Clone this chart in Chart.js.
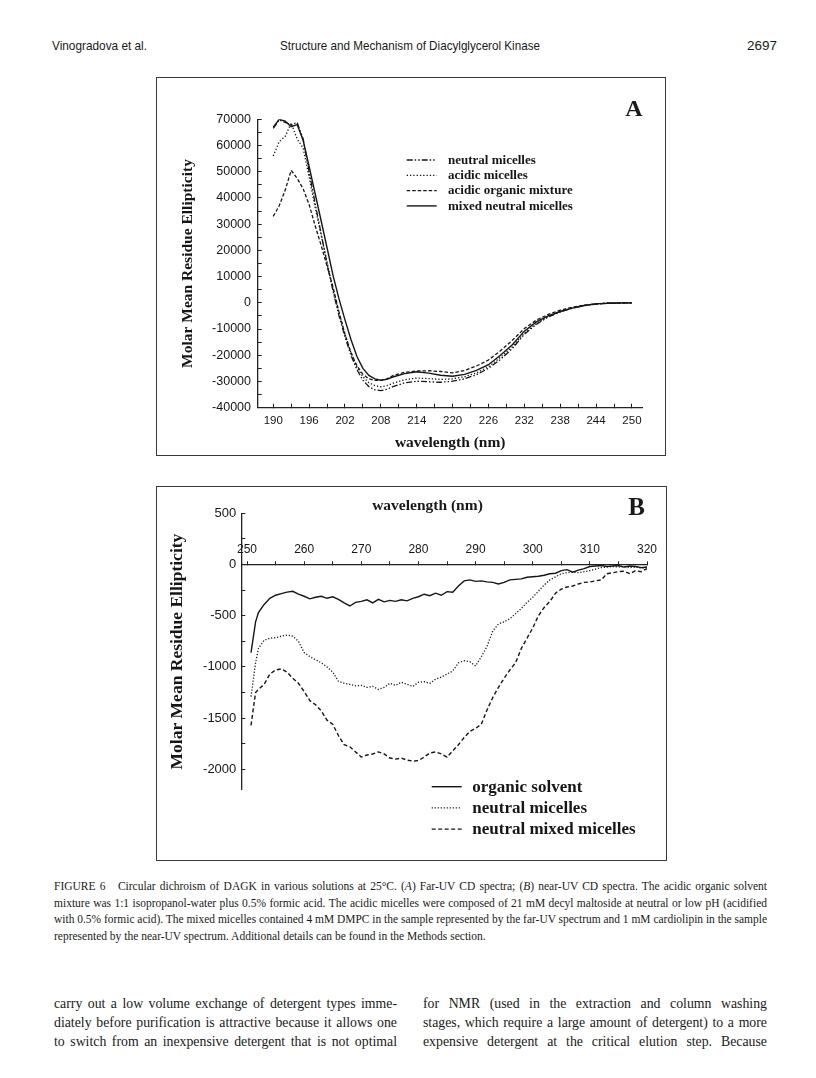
<!DOCTYPE html>
<html>
<head>
<meta charset="utf-8">
<title>Figure 6 – Circular dichroism of DAGK</title>
<script src="https://cdn.jsdelivr.net/npm/chart.js@4/dist/chart.umd.min.js"></script>
<style>
html,body{margin:0;padding:0;background:#fff;}
#page{position:relative;width:816px;height:1078px;overflow:hidden;background:#fff;color:#1a1a1a;}
.hdr{position:absolute;top:38px;font-family:"Liberation Sans",Arial,sans-serif;font-size:13px;line-height:16px;white-space:nowrap;transform-origin:left center;}
.box{position:absolute;border:1.5px solid #3a3a3a;box-sizing:border-box;}
.cv{position:absolute;}
.lbl{position:absolute;font-family:"Liberation Serif","Times New Roman",serif;font-weight:bold;white-space:nowrap;transform:translate(-50%,-50%);line-height:1;}
.cap{position:absolute;left:54px;font-family:"Liberation Serif","Times New Roman",serif;font-size:11.5px;line-height:14px;white-space:nowrap;transform-origin:left center;}
.txt{position:absolute;font-family:"Liberation Serif","Times New Roman",serif;font-size:13.8px;line-height:16px;white-space:nowrap;transform-origin:left center;}
</style>
</head>
<body>
<div id="page">
  <div class="hdr fs" data-w="95" style="left:52px;">Vinogradova et al.</div>
  <div class="hdr fs" data-w="260" style="left:280px;">Structure and Mechanism of Diacylglycerol Kinase</div>
  <div class="hdr fs" data-w="30" style="left:747px;">2697</div>

  <div class="box" style="left:156px;top:77px;width:510px;height:379px;"></div>
  <canvas id="chartA" class="cv" width="508" height="377" style="left:157px;top:78px;"></canvas>
  <div class="lbl" style="left:634px;top:108px;font-size:24px;">A</div>

  <div class="box" style="left:156px;top:486px;width:511px;height:375px;"></div>
  <canvas id="chartB" class="cv" width="509" height="372" style="left:157px;top:487px;"></canvas>
  <div class="lbl" style="left:427.5px;top:505px;font-size:15.5px;">wavelength (nm)</div>
  <div class="lbl" style="left:636.5px;top:506px;font-size:25px;">B</div>

  <div class="cap fit" data-w="713" style="top:879px;">FIGURE 6&nbsp;&nbsp; Circular dichroism of DAGK in various solutions at 25°C. (<i>A</i>) Far-UV CD spectra; (<i>B</i>) near-UV CD spectra. The acidic organic solvent</div>
  <div class="cap fit" data-w="713" style="top:896px;">mixture was 1:1 isopropanol-water plus 0.5% formic acid. The acidic micelles were composed of 21 mM decyl maltoside at neutral or low pH (acidified</div>
  <div class="cap fit" data-w="713" style="top:912px;">with 0.5% formic acid). The mixed micelles contained 4 mM DMPC in the sample represented by the far-UV spectrum and 1 mM cardiolipin in the sample</div>
  <div class="cap" style="top:929px;">represented by the near-UV spectrum. Additional details can be found in the Methods section.</div>

  <div class="txt fit" data-w="343" style="left:54px;top:996px;">carry out a low volume exchange of detergent types imme-</div>
  <div class="txt fit" data-w="343" style="left:54px;top:1015px;">diately before purification is attractive because it allows one</div>
  <div class="txt fit" data-w="343" style="left:54px;top:1034px;">to switch from an inexpensive detergent that is not optimal</div>
  <div class="txt fit" data-w="344" style="left:423px;top:996px;">for NMR (used in the extraction and column washing</div>
  <div class="txt fit" data-w="344" style="left:423px;top:1015px;">stages, which require a large amount of detergent) to a more</div>
  <div class="txt fit" data-w="344" style="left:423px;top:1034px;">expensive detergent at the critical elution step. Because</div>
</div>

<script>
// ---------------- Panel A data (far-UV) ----------------
const wavelengthsA = [190,191,192,193,194,195,196,197,198,199,200,201,202,203,204,205,206,207,208,209,210,
  212,214,216,218,220,222,224,226,228,230,232,234,236,238,240,242,244,246,248,250];
const neutralMicellesA = [66500,69800,68800,68000,68800,62500,50000,38000,26500,15000,4500,-5000,-13000,-20000,-25500,-29500,-32000,-33200,-33500,-33000,-32000,
  -30500,-29900,-30100,-30300,-29900,-29000,-27400,-25000,-21600,-17400,-12000,-8200,-5400,-3500,-2100,-1100,-450,-150,-50,0];
const acidicMicellesA = [56000,61500,63500,68500,62500,59000,48000,36500,26000,15500,5000,-4000,-12000,-19000,-24500,-28200,-30500,-31600,-32000,-31600,-30700,
  -29300,-28700,-28900,-29200,-29000,-28200,-26700,-24400,-20800,-16800,-11500,-7900,-5200,-3400,-2000,-1000,-400,-150,-50,0];
const acidicOrganicA = [33000,37000,43000,50500,47500,43500,37500,29500,22000,14000,6000,-3500,-12000,-19000,-24000,-27300,-29000,-29600,-29600,-29000,-27800,
  -26500,-26000,-25900,-26200,-26700,-25800,-24100,-21800,-18300,-14300,-9800,-6600,-4400,-2800,-1700,-900,-400,-150,-50,0];
const mixedNeutralA = [67000,70000,69300,67200,68000,62000,52000,41700,31400,21000,10500,1500,-6500,-14000,-20500,-25000,-27700,-29000,-29500,-29200,-28300,
  -27000,-26300,-26800,-27600,-28000,-27300,-25800,-23600,-20000,-16000,-10800,-7300,-5000,-3300,-2000,-1000,-400,-150,-50,0];
const xTicksA = [190,193,196,199,202,205,208,211,214,217,220,223,226,229,232,235,238,241,244,247,250];
const xTickLabelsA = [190,196,202,208,214,220,226,232,238,244,250];
const yTicksA = [-40000,-35000,-30000,-25000,-20000,-15000,-10000,-5000,0,5000,10000,15000,20000,25000,30000,35000,40000,45000,50000,55000,60000,65000,70000];
const yTickLabelsA = [-40000,-30000,-20000,-10000,0,10000,20000,30000,40000,50000,60000,70000];
const labelsA = ['neutral micelles','acidic micelles','acidic organic mixture','mixed neutral micelles'];

// ---------------- Panel B data (near-UV) ----------------
const wavelengthsB = [250.7,251.5,252,253,254,255,256,257,258,259,260,261,262,263,264,265,266,267,268,269,270,271,
  272,273,274,275,276,277,278,279,280,281,282,283,284,285,286,287,288,289,290,291,
  292,293,294,295,296,297,298,299,300,301,302,303,304,305,306,307,308,309,310,311,
  312,313,314,315,316,317,318,319,320];
const organicSolventB = [-860,-560,
  -470,-390,-330,-300,-285,-270,-262,-290,-310,-335,
  -320,-310,-330,-315,-340,-375,-405,-370,-360,-345,
  -375,-340,-365,-350,-360,-345,-355,-330,-315,-290,
  -305,-280,-300,-265,-270,-210,-160,-150,-165,-160,
  -170,-175,-190,-175,-150,-145,-140,-125,-120,-115,
  -105,-90,-85,-60,-50,-75,-55,-40,-20,-15,
  -10,-20,-15,-10,-25,-15,-20,-30,-25];
const neutralMicellesB = [-1290,-960,
  -820,-740,-720,-715,-700,-690,-700,-750,-860,-900,
  -930,-960,-1000,-1050,-1140,-1160,-1170,-1185,-1180,-1200,
  -1190,-1220,-1200,-1160,-1180,-1150,-1170,-1190,-1150,-1145,
  -1160,-1120,-1100,-1070,-1040,-960,-940,-950,-990,-900,
  -800,-650,-580,-560,-530,-480,-430,-370,-320,-260,
  -200,-150,-120,-90,-80,-75,-80,-70,-60,-45,
  -30,-25,-20,-25,-20,-30,-25,-35,-30];
const neutralMixedMicellesB = [-1570,-1250,
  -1220,-1170,-1070,-1030,-1020,-1050,-1110,-1160,-1240,-1330,
  -1370,-1430,-1520,-1560,-1670,-1760,-1780,-1830,-1880,-1860,
  -1850,-1830,-1850,-1890,-1900,-1890,-1910,-1920,-1915,-1880,
  -1840,-1830,-1850,-1880,-1820,-1760,-1690,-1630,-1600,-1560,
  -1420,-1300,-1200,-1110,-1030,-960,-820,-720,-620,-500,
  -420,-360,-280,-240,-220,-210,-190,-175,-170,-160,
  -150,-90,-80,-70,-65,-90,-60,-70,-40];
const xTicksB = [250,255,260,265,270,275,280,285,290,295,300,305,310,315,320];
const xTickLabelsB = [250,260,270,280,290,300,310,320];
const yTicksB = [-2000,-1750,-1500,-1250,-1000,-750,-500,-250,0,250,500];
const yTickLabelsB = [-2000,-1500,-1000,-500,0,500];
const labelsB = ['organic solvent','neutral micelles','neutral mixed micelles'];

// ---------------- helpers ----------------
const SERIF = '"Liberation Serif","Times New Roman",serif';
const SANS = '"Liberation Sans",Arial,sans-serif';
const INK = '#161616';
Chart.defaults.font.family = SANS;
Chart.defaults.color = INK;

function toXY(xs, ys){ return xs.map((x,i)=>({x:x, y:ys[i]})); }

const inlineLegend = {
  id: 'inlineLegend',
  afterDraw(chart, args, opts){
    const ctx = chart.ctx;
    ctx.save();
    ctx.font = opts.font;
    ctx.textBaseline = 'middle';
    ctx.textAlign = 'left';
    chart.data.datasets.forEach((ds, i)=>{
      const y = opts.y + i*opts.rowGap;
      ctx.beginPath();
      ctx.setLineDash(ds.borderDash || []);
      ctx.lineWidth = ds.borderWidth;
      ctx.strokeStyle = ds.borderColor;
      ctx.moveTo(opts.x, y);
      ctx.lineTo(opts.x + opts.lineLen, y);
      ctx.stroke();
      ctx.setLineDash([]);
      ctx.fillStyle = INK;
      ctx.fillText(ds.label, opts.x + opts.lineLen + opts.gap, y + 0.5);
    });
    ctx.restore();
  }
};

function axisGrid(){
  return {display:true, drawOnChartArea:false, drawTicks:true, tickLength:-4, color:'#222', tickWidth:1};
}

// ---------------- Chart A ----------------
new Chart(document.getElementById('chartA'), {
  type:'line',
  data:{datasets:[
    {label:labelsA[0], data:toXY(wavelengthsA, neutralMicellesA), borderColor:INK, borderWidth:1.3, borderDash:[6,2,1.5,2,1.5,2]},
    {label:labelsA[1], data:toXY(wavelengthsA, acidicMicellesA), borderColor:INK, borderWidth:1.3, borderDash:[1.3,2]},
    {label:labelsA[2], data:toXY(wavelengthsA, acidicOrganicA), borderColor:INK, borderWidth:1.3, borderDash:[3.5,2]},
    {label:labelsA[3], data:toXY(wavelengthsA, mixedNeutralA), borderColor:INK, borderWidth:1.4, borderDash:[]}
  ]},
  options:{
    responsive:false, animation:false, devicePixelRatio:1,
    layout:{padding:{left:0, top:41.3, right:22.3, bottom:0}},
    elements:{point:{radius:0}, line:{tension:0, fill:false}},
    plugins:{
      legend:{display:false}, tooltip:{enabled:false}, title:{display:false},
      inlineLegend:{x:249.7, y:82, rowGap:15.3, lineLen:30, gap:11.3, font:'bold 13px '+SERIF}
    },
    scales:{
      x:{type:'linear', min:187.4, max:251.8,
        afterBuildTicks:(s)=>{ s.ticks = xTicksA.map(v=>({value:v})); },
        afterFit:(s)=>{ s.height = 47.3; },
        ticks:{autoSkip:false, maxRotation:0, padding:10.1, color:INK, font:{size:11.5, family:SANS},
          callback:(v)=> xTickLabelsA.includes(v) ? String(v) : ''},
        grid:axisGrid(),
        border:{display:true, color:'#222', width:1.3},
        title:{display:true, text:'wavelength (nm)', color:INK, font:{family:SERIF, weight:'bold', size:15.5}, padding:{top:0, bottom:2.4}}
      },
      y:{type:'linear', min:-40000, max:70000,
        afterBuildTicks:(s)=>{ s.ticks = yTicksA.map(v=>({value:v})); },
        afterFit:(s)=>{ s.width = 100.7; },
        ticks:{autoSkip:false, padding:10.7, color:INK, font:{size:12.5, family:SANS},
          callback:(v)=> yTickLabelsA.includes(v) ? String(v) : ''},
        grid:axisGrid(),
        border:{display:true, color:'#222', width:1.3},
        title:{display:true, text:'Molar Mean Residue Ellipticity', color:INK, font:{family:SERIF, weight:'bold', size:15.5}, padding:{top:21.7, bottom:0}}
      }
    }
  },
  plugins:[inlineLegend]
});

// ---------------- Chart B ----------------
new Chart(document.getElementById('chartB'), {
  type:'line',
  data:{datasets:[
    {label:labelsB[0], data:toXY(wavelengthsB, organicSolventB), borderColor:INK, borderWidth:1.4, borderDash:[]},
    {label:labelsB[1], data:toXY(wavelengthsB, neutralMicellesB), borderColor:INK, borderWidth:1.3, borderDash:[1.2,1.8]},
    {label:labelsB[2], data:toXY(wavelengthsB, neutralMixedMicellesB), borderColor:INK, borderWidth:1.4, borderDash:[4,2.5]}
  ]},
  options:{
    responsive:false, animation:false, devicePixelRatio:1,
    layout:{padding:{left:0, top:26.3, right:19, bottom:69.2}},
    elements:{point:{radius:0}, line:{tension:0, fill:false}},
    plugins:{
      legend:{display:false}, tooltip:{enabled:false}, title:{display:false},
      inlineLegend:{x:274.7, y:299.7, rowGap:21.2, lineLen:30, gap:10.6, font:'bold 17px '+SERIF}
    },
    scales:{
      x:{type:'linear', min:249, max:320, position:{y:0},
        afterBuildTicks:(s)=>{ s.ticks = xTicksB.map(v=>({value:v})); },
        ticks:{autoSkip:false, maxRotation:0, padding:-18.2, color:INK, font:{size:12, family:SANS},
          callback:(v)=> xTickLabelsB.includes(v) ? String(v) : ''},
        grid:axisGrid(),
        border:{display:true, color:'#222', width:1.3},
        title:{display:false}
      },
      y:{type:'linear', min:-2200, max:500,
        afterBuildTicks:(s)=>{ s.ticks = yTicksB.map(v=>({value:v})); },
        afterFit:(s)=>{ s.width = 84.3; },
        ticks:{autoSkip:false, padding:9, color:INK, font:{size:13, family:SANS},
          callback:(v)=> yTickLabelsB.includes(v) ? String(v) : ''},
        grid:axisGrid(),
        border:{display:true, color:'#222', width:1.3},
        title:{display:true, text:'Molar Mean Residue Ellipticity', color:INK, font:{family:SERIF, weight:'bold', size:17.5}, padding:{top:10, bottom:0}}
      }
    }
  },
  plugins:[inlineLegend]
});

// ---------------- justify page text lines ----------------
function fitText(){
  document.querySelectorAll('.fit').forEach(el=>{
    el.style.wordSpacing = ''; el.style.transform = '';
    const target = parseFloat(el.dataset.w);
    const nat = el.getBoundingClientRect().width;
    const spaces = (el.textContent.match(/[ \u00a0]/g) || []).length;
    if (nat <= target && spaces > 0) el.style.wordSpacing = ((target - nat) / spaces) + 'px';
    else if (nat > target) el.style.transform = 'scaleX(' + (target / nat) + ')';
  });
  document.querySelectorAll('.fs').forEach(el=>{
    el.style.transform = '';
    const target = parseFloat(el.dataset.w);
    const nat = el.getBoundingClientRect().width;
    el.style.transform = 'scaleX(' + (target / nat) + ')';
  });
}
fitText();
if (document.fonts && document.fonts.ready) document.fonts.ready.then(fitText);
</script>
</body>
</html>
